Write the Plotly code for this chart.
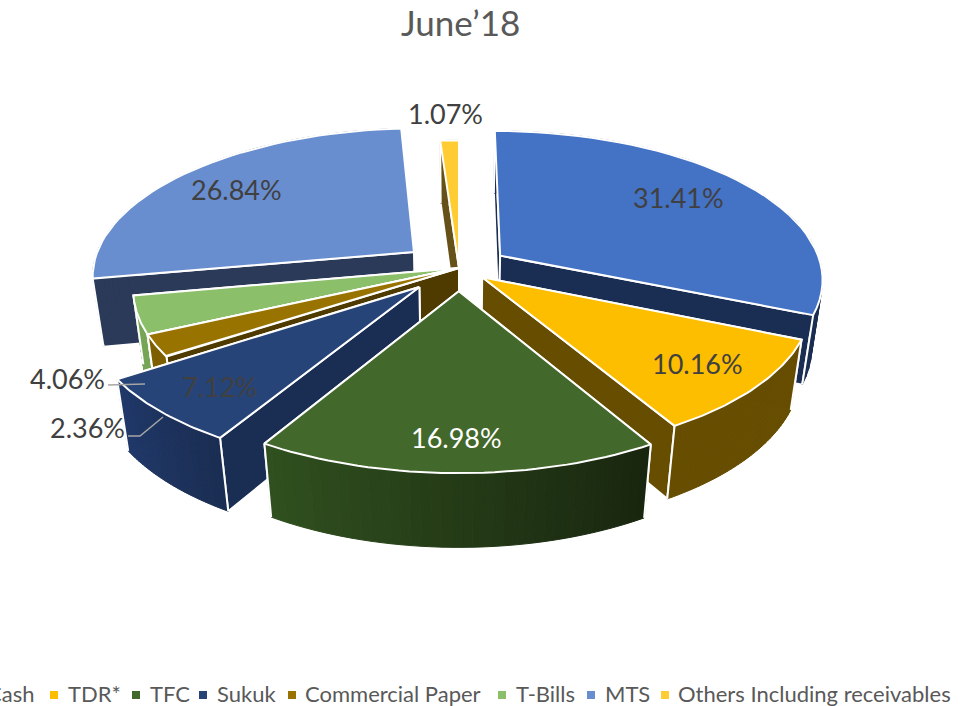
"""June'18 asset allocation, exploded 3D pie drawn as projected filled polygons."""

import numpy as np
import plotly.graph_objects as go

# data
categories = ["Cash", "TDR*", "TFC", "Sukuk", "Commercial Paper", "T-Bills", "MTS",
              "Others Including receivables"]
values = [31.41, 10.16, 16.98, 7.12, 2.36, 4.06, 26.84, 1.07]
value_labels = ["31.41%", "10.16%", "16.98%", "7.12%", "2.36%", "4.06%", "26.84%", "1.07%"]

# how far each slice is pulled out, in radii
explode = [0.155, 0.095, 0.155, 0.175, 0, 0, 0.18, 0]

# colours
top_colors = ["#4472C4", "#FDBE00", "#43682B", "#264478", "#997300", "#8BBF69", "#698ED0", "#FFCD33"]
wall_left = ["#1A2D52", "#664D00", "#30501F", "#20396A", "#7F6000", "#76A656", "#2A3A58", "#665218"]
wall_right = ["#1A2D52", "#664D00", "#19260F", "#1A2D52", "#7F6000", "#76A656", "#2A3A58", "#665218"]
radial_walls = ["#1A2D52", "#664D00", "#2A4519", "#1A2D52", "#4F3A00", "#76A656", "#2A3A58", "#665218"]
label_colors = ["#404040", "#404040", "#FFFFFF", "#404040", "#404040", "#404040", "#404040", "#404040"]

# back to front
draw_order = [0, 6, 7, 5, 4, 1, 3, 2]

# view, fitted against the picture
CX, CY = 459, 268
G, KY = 322, 0.15
SIN_T, COS_T = 0.456, 0.893
KZ = 0.125
HEIGHT = 0.243


def project(x, y, down=0.0):
    scale = 1 - KY * y + KZ * down
    return CX + G * x / scale, CY + G * (SIN_T * y + COS_T * down) / scale


def arc_points(a0, a1, off_x, off_y, down=0.0, steps=40):
    angles = np.linspace(a0, a1, steps)
    return [project(off_x + np.sin(a), off_y - np.cos(a), down) for a in angles]


def mix(c0, c1, t):
    a = [int(c0[i:i + 2], 16) for i in (1, 3, 5)]
    b = [int(c1[i:i + 2], 16) for i in (1, 3, 5)]
    return "#" + "".join(f"{round(p + (q - p) * t):02X}" for p, q in zip(a, b))


fig = go.Figure()


def add_poly(points, fill, line="#FFFFFF", width=2, name=None):
    xs, ys = zip(*points)
    fig.add_trace(go.Scatter(
        x=list(xs) + [xs[0]], y=list(ys) + [ys[0]], mode="lines", fill="toself",
        fillcolor=fill, line=dict(color=line, width=width),
        name=name, hoverinfo="text" if name else "skip", text=name,
    ))


def add_slice(i, a0, a1):
    mid = (a0 + a1) / 2
    ox, oy = explode[i] * np.sin(mid), -explode[i] * np.cos(mid)
    apex, apex_low = project(ox, oy), project(ox, oy, HEIGHT)
    top_arc = arc_points(a0, a1, ox, oy)
    low_arc = arc_points(a0, a1, ox, oy, HEIGHT)

    # radial walls first, the one further back before the nearer one;
    # the outer wall and the top cover whatever faces away
    ends = sorted([0, -1], key=lambda e: top_arc[e][1])
    for e in ends:
        add_poly([apex, top_arc[e], low_arc[e], apex_low], radial_walls[i])

    # outer wall as strips so it can carry the shading
    n = len(top_arc) - 1
    for k in range(n):
        color = mix(wall_left[i], wall_right[i], 1 - k / (n - 1))
        add_poly([top_arc[k], top_arc[k + 1], low_arc[k + 1], low_arc[k]], color, line=color, width=1)
    # corner lines of the outer wall
    for p, q in ((top_arc[0], low_arc[0]), (top_arc[-1], low_arc[-1])):
        fig.add_trace(go.Scatter(x=[p[0], q[0]], y=[p[1], q[1]], mode="lines",
                                 line=dict(color="#FFFFFF", width=2), hoverinfo="skip"))

    add_poly([apex] + top_arc, top_colors[i], name=f"{categories[i]}: {value_labels[i]}")


edges = np.cumsum([0] + values) / sum(values) * 2 * np.pi
for i in draw_order:
    add_slice(i, edges[i], edges[i + 1])

# leader lines of the two outside labels
leader_x = [[108, 145], [128, 140, 163]]
leader_y = [[385, 384], [436, 436, 417]]
for lx, ly in zip(leader_x, leader_y):
    fig.add_trace(go.Scatter(x=lx, y=ly, mode="lines", line=dict(color="#A6A6A6", width=1.5),
                             hoverinfo="skip"))

# value labels
label_x = [678, 697, 456, 219, 87, 67, 236, 445]
label_y = [197, 363, 437, 386, 427, 378, 189, 113]
for text, x, y, color in zip(value_labels, label_x, label_y, label_colors):
    fig.add_annotation(x=x, y=y, text=text, showarrow=False, font=dict(size=27, color=color))

# legend, the row runs past the left edge of the picture like in the original.
# Cash is anchored by its right end, an anchor outside the axis range would hide it
legend_swatch_x = [-20, 54, 136, 203, 292, 502, 591, 665]
legend_text_x = [36, 66, 148, 215, 303, 514, 603, 676]
legend_anchor = ["right", "left", "left", "left", "left", "left", "left", "left"]
legend_y = 695
fig.add_trace(go.Scatter(
    x=legend_swatch_x, y=[legend_y] * len(categories), mode="markers",
    marker=dict(symbol="square", size=8, color=top_colors), hoverinfo="skip",
))
for name, x, anchor in zip(categories, legend_text_x, legend_anchor):
    fig.add_annotation(x=x, y=legend_y - 2, text=name, showarrow=False, xanchor=anchor,
                       font=dict(size=22, color="#595959"))

fig.add_annotation(x=460, y=22, text="June’18", showarrow=False,
                   font=dict(size=35, color="#595959"))

fig.update_layout(
    width=968, height=706, margin=dict(l=0, r=0, t=0, b=0),
    paper_bgcolor="#FFFFFF", plot_bgcolor="#FFFFFF", showlegend=False,
    font=dict(family="Lato"),
    xaxis=dict(range=[0, 968], visible=False, fixedrange=True),
    yaxis=dict(range=[706, 0], visible=False, fixedrange=True),
)

# the page's default body margin would push the figure 8px in
fig.write_html("out.html", config={"displayModeBar": False},
               post_script="document.body.style.margin='0';document.body.style.overflow='hidden';")
